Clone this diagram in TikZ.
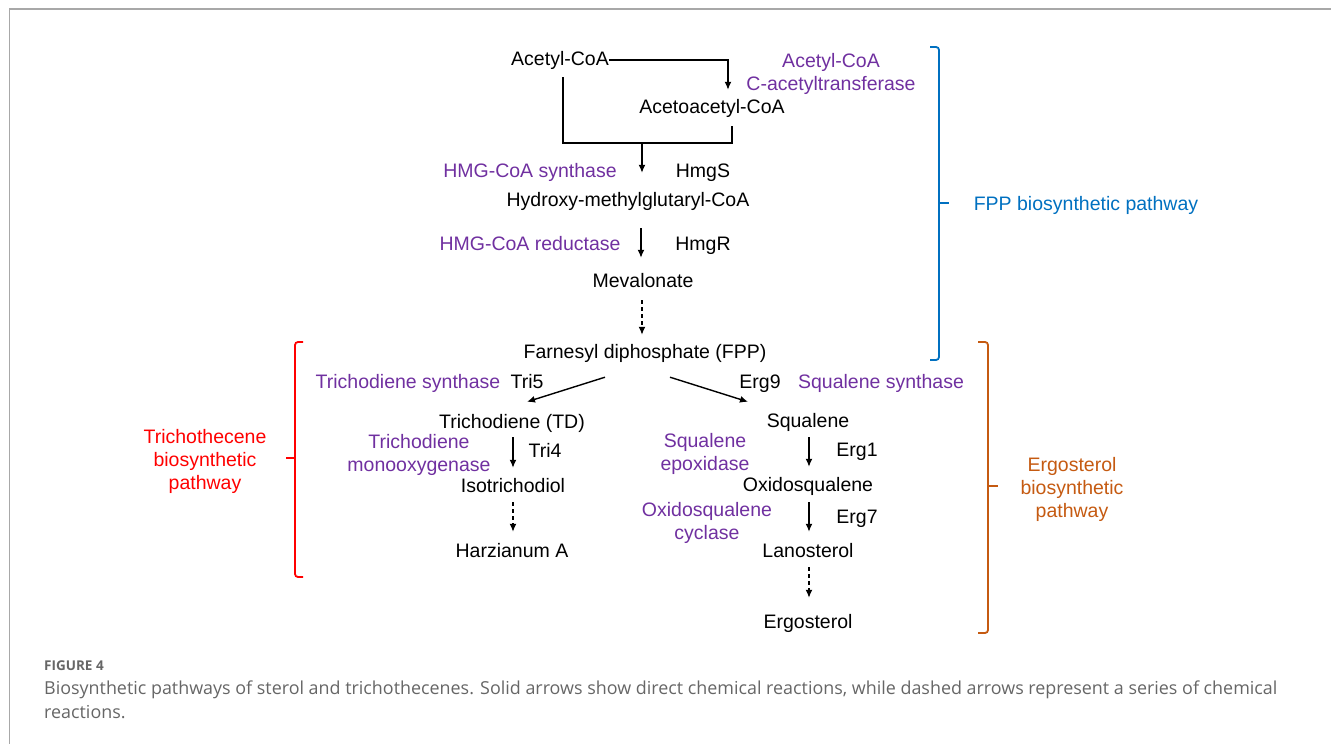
\documentclass[tikz,border=0pt]{standalone}
\usepackage{fontspec}
\setmainfont{Liberation Sans}
\newfontfamily\capfont{Open Sans}
\usetikzlibrary{arrows.meta}
\definecolor{enz}{HTML}{7030A0}
\definecolor{fppblue}{HTML}{0070C0}
\definecolor{trired}{HTML}{FF0000}
\definecolor{ergor}{HTML}{C55A11}
\definecolor{capgray}{HTML}{666666}
\definecolor{framegray}{HTML}{A8A8A8}
\tikzset{
  mol/.style={inner sep=0pt, text height=14pt, text depth=4pt, font=\fontsize{19.5}{23}\selectfont},
  enzl/.style={mol, text=enz},
  enzml/.style={inner sep=0pt, align=center, text=enz, font=\fontsize{19.5}{23}\selectfont},
  gene/.style={mol},
  pw/.style={inner sep=0pt, align=center, font=\fontsize{19.5}{23}\selectfont},
  arr/.style={line width=1.4pt, -{Latex[length=8pt,width=7pt]}},
  dasharr/.style={arr, dash pattern=on 4pt off 3pt},
  plain/.style={line width=1.4pt},
  brk/.style={line width=1.8pt, rounded corners=3pt},
  captext/.style={anchor=west, inner sep=0pt, text=capgray},
}
\begin{document}
\begin{tikzpicture}[x=1pt,y=-1pt]
\useasboundingbox (0,0) rectangle (1331,744);
% frame
\draw[framegray, line width=1.8pt] (9.5,744) -- (9.5,9) -- (1331,9);

% molecules
\node[mol] (acetyl) at (560,60) {Acetyl-CoA};
\node[mol] (aceto) at (712,108) {Acetoacetyl-CoA};
\node[mol] (hmg) at (628,201) {Hydroxy-methylglutaryl-CoA};
\node[mol] (mev) at (643,282) {Mevalonate};
\node[mol] (fpp) at (645,353) {Farnesyl diphosphate (FPP)};
\node[mol] (td) at (512,423) {Trichodiene (TD)};
\node[mol] (iso) at (513,487) {Isotrichodiol};
\node[mol] (harz) at (512,552) {Harzianum A};
\node[mol] (sq) at (808,422) {Squalene};
\node[mol] (oxs) at (808,486) {Oxidosqualene};
\node[mol] (lan) at (808,552) {Lanosterol};
\node[mol] (ergo) at (808,623) {Ergosterol};

% enzymes
\node[enzml] (acat) at (831,74) {Acetyl-CoA\\C-acetyltransferase};
\node[enzl] (hmgs) at (530,172) {HMG-CoA synthase};
\node[gene] (hmgsg) at (703,172) {HmgS};
\node[enzl] (hmgr) at (530,245) {HMG-CoA reductase};
\node[gene] (hmgrg) at (703,245) {HmgR};
\node[enzl] (tsyn) at (408,383) {Trichodiene synthase};
\node[gene] (tri5) at (527,383) {Tri5};
\node[enzml] (tmono) at (419,455) {Trichodiene\\monooxygenase};
\node[gene] (tri4) at (545,452) {Tri4};
\node[gene] (erg9) at (760,383) {Erg9};
\node[enzl] (ssyn) at (881,383) {Squalene synthase};
\node[enzml] (sepo) at (705,454) {Squalene\\epoxidase};
\node[gene] (erg1) at (857,451) {Erg1};
\node[enzml] (ocyc) at (707,523) {Oxidosqualene\\cyclase};
\node[gene] (erg7) at (857,518) {Erg7};

% pathway labels
\node[pw, text=fppblue] (fpppw) at (1086,205) {FPP biosynthetic pathway};
\node[pw, text=trired] (tripw) at (205,461) {Trichothecene\\biosynthetic\\pathway};
\node[pw, text=ergor] (ergpw) at (1072,489) {Ergosterol\\biosynthetic\\pathway};

% top connectors
\draw[arr] (acetyl.east) -| ([xshift=16pt,yshift=9pt]aceto.north);
\coordinate (junc) at (642,143);
\draw[plain] ([xshift=3pt,yshift=-8pt]acetyl.south) |- (junc) -| ([xshift=20pt,yshift=-9pt]aceto.south);
\draw[arr] (junc) -- ([xshift=14pt,yshift=19pt]hmg.north);
\draw[arr] ([xshift=13pt,yshift=-18pt]hmg.south) -- ([xshift=-2pt,yshift=15pt]mev.north);
\draw[dasharr] ([xshift=-1pt,yshift=-9pt]mev.south) -- ([xshift=-3pt,yshift=9pt]fpp.north);

% branches
\draw[arr] ([xshift=-40pt,yshift=-15pt]fpp.south) -- ([xshift=15pt,yshift=12pt]td.north);
\draw[arr] ([xshift=25pt,yshift=-15pt]fpp.south) -- ([xshift=-60pt,yshift=11pt]sq.north);

% trichothecene branch
\draw[arr] ([xshift=1pt,yshift=-5pt]td.south) -- ([yshift=10pt]iso.north);
\draw[dasharr] ([yshift=-6pt]iso.south) -- ([xshift=1pt,yshift=11pt]harz.north);

% ergosterol branch
\draw[arr] ([xshift=1pt,yshift=-6pt]sq.south) -- ([xshift=1pt,yshift=10pt]oxs.north);
\draw[arr] ([xshift=1pt,yshift=-7pt]oxs.south) -- ([xshift=1pt,yshift=11pt]lan.north);
\draw[dasharr] ([xshift=1pt,yshift=-6pt]lan.south) -- ([xshift=1pt,yshift=16pt]ergo.north);

% brackets
\draw[brk, fppblue] (930,47) -- (939,47) -- (939,360) -- (930,360);
\draw[fppblue, line width=1.8pt] (939,203) -- (949,203);
\draw[brk, trired] (303,342) -- (295,342) -- (295,577) -- (303,577);
\draw[trired, line width=1.8pt] (295,458) -- (286,458);
\draw[brk, ergor] (978,342) -- (988,342) -- (988,633) -- (978,633);
\draw[ergor, line width=1.8pt] (988,486) -- (998,486);

% caption
\node[captext, font=\capfont\bfseries\fontsize{13.5}{16}\selectfont] (figno) at (44,666) {FIGURE 4};
\node[captext, font=\capfont\fontsize{17.9}{21}\selectfont] (cap1) at (44,690) {Biosynthetic pathways of sterol and trichothecenes. Solid arrows show direct chemical reactions, while dashed arrows represent a series of chemical};
\node[captext, font=\capfont\fontsize{17.9}{21}\selectfont] (cap2) at (44,712) {reactions.};
\end{tikzpicture}
\end{document}
